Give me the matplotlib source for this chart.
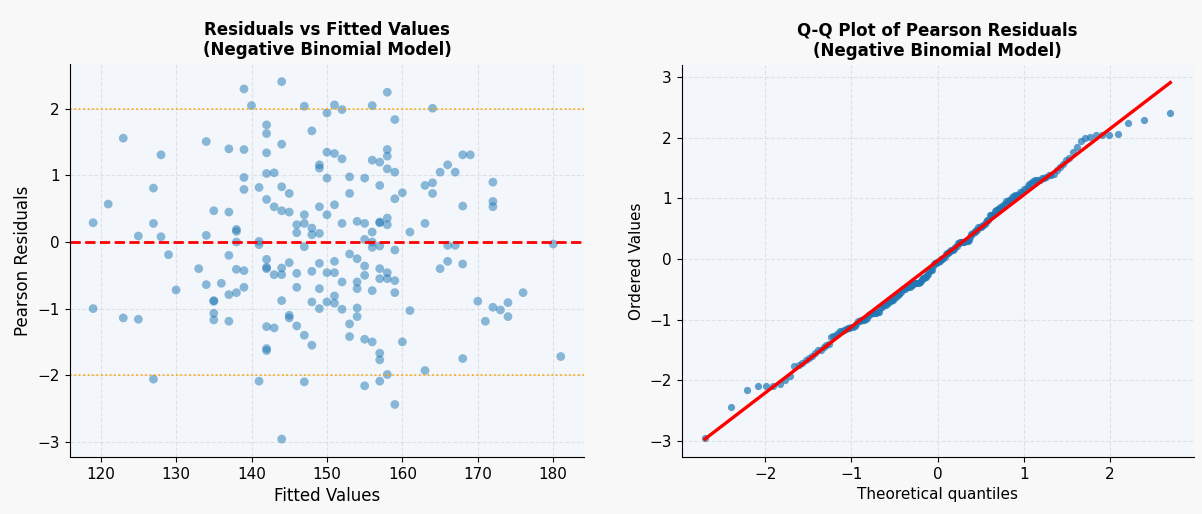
import numpy as np
import matplotlib
matplotlib.use("Agg")
import matplotlib.pyplot as plt
from statistics import NormalDist

fitted = [
    119, 121, 123, 125, 127, 127, 128, 128, 134, 134, 135, 137, 137, 138, 138, 138,
    139, 139, 139, 139, 140, 141, 141, 142, 142, 142, 142, 142, 143, 143,
    144, 144, 144, 144, 145, 145, 146, 146, 147, 147, 147, 148, 148, 148,
    149, 149, 149, 149, 150, 150, 150, 150, 151, 151, 151, 152, 152, 152,
    153, 153, 154, 155, 155, 155, 156, 156, 156, 156, 157, 157, 157, 157,
    158, 158, 158, 158, 158, 158, 159, 159, 159, 160, 161, 163, 163,
    164, 164, 164, 165, 166, 167, 168, 168, 169, 172, 172, 172,
    # negative residuals
    119, 123, 125, 127, 129, 130, 133, 134, 135, 135, 135, 135, 136,
    137, 137, 137, 138, 138, 139, 139, 141, 141, 142, 142, 142, 142, 142, 142,
    143, 143, 144, 144, 144, 144, 145, 145, 145, 146, 146, 146, 147, 147, 147,
    148, 148, 148, 149, 149, 149, 150, 150, 151, 151, 151, 151, 152, 152,
    153, 153, 153, 154, 154, 154, 154, 154, 155, 155, 155, 155, 156, 156, 156,
    157, 157, 157, 157, 157, 157, 158, 158, 158, 159, 159, 159, 159,
    160, 161, 163, 165, 166, 166, 167, 168, 168, 170, 171, 172, 173, 174, 174,
    176, 180, 181,
]
residuals = [
    0.29, 0.57, 1.56, 0.09, 0.81, 0.28, 1.31, 0.08, 1.51, 0.10, 0.47, 1.40, 0.45, 0.19, 0.16, 0.00,
    2.30, 1.39, 0.97, 0.79, 2.05, 0.82, 0.01, 1.76, 1.63, 1.34, 1.03, 0.64, 1.04, 0.53,
    2.41, 1.47, 0.83, 0.47, 0.73, 0.45, 0.26, 0.14, 2.04, 0.41, 0.28, 1.67, 0.21, 0.11,
    1.16, 1.11, 0.53, 0.13, 1.94, 1.35, 0.96, 0.41, 2.06, 1.33, 0.56, 1.99, 1.25, 0.28,
    0.98, 0.73, 0.31, 0.96, 0.28, 0.04, 2.05, 1.23, 0.15, 0.00, 1.20, 0.85, 0.30, 0.29,
    2.25, 1.39, 1.29, 1.10, 0.36, 0.26, 1.84, 1.05, 0.65, 0.74, 0.15, 0.85, 0.28,
    2.01, 0.89, 0.73, 1.05, 1.16, 1.05, 1.31, 0.54, 1.31, 0.90, 0.61, 0.53,
    -1.00, -1.14, -1.16, -2.06, -0.19, -0.72, -0.40, -0.64, -0.88, -0.89, -1.07, -1.17, -0.62,
    -0.20, -0.79, -1.19, -0.41, -0.76, -0.43, -0.68, -0.04, -2.09, -0.26, -0.38, -0.40, -1.27, -1.60, -1.63,
    -0.49, -1.29, -0.39, -0.49, -0.88, -2.96, -0.31, -1.10, -1.14, -0.47, -0.68, -1.26, -0.07, -1.40, -2.10,
    -0.44, -0.90, -1.55, -0.32, -0.70, -1.00, -0.46, -0.90, -0.29, -0.46, -0.81, -0.92, -0.60, -1.01,
    -0.18, -1.23, -1.42, -0.25, -0.60, -0.70, -0.99, -1.12, -0.36, -0.50, -1.46, -2.16, -0.08, -0.73, -1.50,
    -0.06, -0.40, -0.55, -1.67, -1.77, -2.09, -0.46, -0.55, -1.99, -0.12, -0.58, -0.76, -2.44,
    -1.50, -1.03, -1.93, -0.40, -0.05, -0.29, -0.05, -0.33, -1.75, -0.89, -1.19, -0.98, -1.02, -0.91, -1.12,
    -0.76, -0.03, -1.72,
]

fitted = np.array(fitted, dtype=float)
residuals = np.array(residuals)

# Q-Q: ordered residuals against normal order statistic medians (Filliben)
ordered = np.sort(residuals)
n = len(ordered)
m = (np.arange(1, n + 1) - 0.3175) / (n + 0.365)
m[-1] = 0.5 ** (1.0 / n)
m[0] = 1 - m[-1]
nd = NormalDist()
theo = np.array([nd.inv_cdf(p) for p in m])
slope, intercept = np.polyfit(theo, ordered, 1)

fig = plt.figure(figsize=(12.02, 5.14), dpi=100, facecolor="#f8f8f8")
ax1 = fig.add_axes([0.058, 0.111, 0.428, 0.765])
ax2 = fig.add_axes([0.567, 0.111, 0.426, 0.763])

for ax in (ax1, ax2):
    ax.set_facecolor("#f3f7fb")
    ax.spines["top"].set_visible(False)
    ax.spines["right"].set_visible(False)
    ax.grid(True, linestyle="--", color="#d0d4d8", alpha=0.6, linewidth=0.8)
    ax.set_axisbelow(True)
    ax.tick_params(labelsize=11)

# Residuals vs fitted
ax1.scatter(fitted, residuals, s=40, color="#1f77b4", alpha=0.5, edgecolors="none")
ax1.axhline(0, color="red", linestyle="--", linewidth=2)
ax1.axhline(2, color="orange", linestyle=":", linewidth=1.2)
ax1.axhline(-2, color="orange", linestyle=":", linewidth=1.2)
ax1.set_xlabel("Fitted Values", fontsize=12)
ax1.set_ylabel("Pearson Residuals", fontsize=12)
ax1.set_title("Residuals vs Fitted Values\n(Negative Binomial Model)", fontsize=12, fontweight="bold")

# Q-Q plot
ax2.plot(theo, ordered, "o", color="#1f77b4", alpha=0.7, markersize=5.2, markeredgewidth=0)
ax2.plot(theo, slope * theo + intercept, color="red", linewidth=2.4)
ax2.set_xlabel("Theoretical quantiles", fontsize=11)
ax2.set_ylabel("Ordered Values", fontsize=11)
ax2.set_title("Q-Q Plot of Pearson Residuals\n(Negative Binomial Model)", fontsize=12, fontweight="bold")

plt.savefig("out.png", dpi=100, facecolor=fig.get_facecolor())
